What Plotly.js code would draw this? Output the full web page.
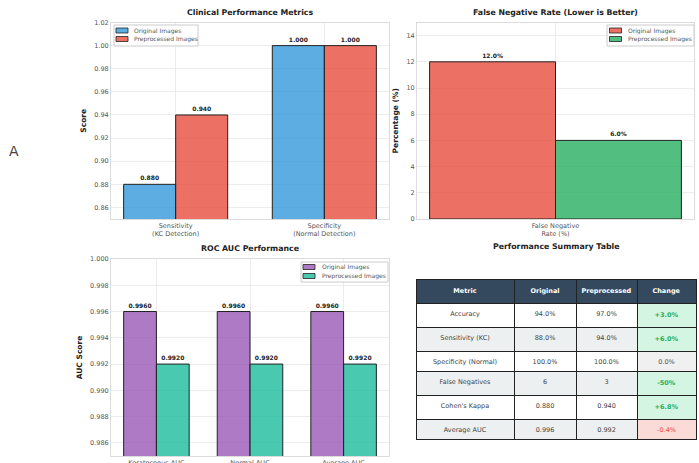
<!DOCTYPE html>
<html><head><meta charset="utf-8">
<script src="https://cdn.plot.ly/plotly-3.0.1.min.js"></script>
<style>body{margin:0;padding:0;background:#fff}#chart{width:699px;height:463px}</style>
</head><body><div id="chart"></div>
<script>
// ---- data ----
const seriesNames = ['Original Images', 'Preprocessed Images'];

const clinicalCats = ['Sensitivity<br>(KC Detection)', 'Specificity<br>(Normal Detection)'];
const clinicalOriginal = [0.880, 1.000];
const clinicalPreprocessed = [0.940, 1.000];

const fnrCats = ['False Negative<br>Rate (%)'];
const fnrOriginal = [12.0];
const fnrPreprocessed = [6.0];

const aucCats = ['Keratoconus AUC', 'Normal AUC', 'Average AUC'];
const aucOriginal = [0.996, 0.996, 0.996];
const aucPreprocessed = [0.992, 0.992, 0.992];

const tableHeader = ['Metric', 'Original', 'Preprocessed', 'Change'];
const tableMetric = ['Accuracy', 'Sensitivity (KC)', 'Specificity (Normal)', 'False Negatives', "Cohen's Kappa", 'Average AUC'];
const tableOriginal = ['94.0%', '88.0%', '100.0%', '6', '0.880', '0.996'];
const tablePreprocessed = ['97.0%', '94.0%', '100.0%', '3', '0.940', '0.992'];
const tableChange = ['+3.0%', '+6.0%', '0.0%', '-50%', '+6.8%', '-0.4%'];
const changeKind = ['good', 'good', 'neutral', 'good', 'good', 'bad'];

// ---- styles ----
const W = 699, H = 463;
const FONT = 'DejaVu Sans, Arial, sans-serif';
const blue = 'rgba(52,152,219,0.8)', red = 'rgba(231,76,60,0.8)', green = 'rgba(39,174,96,0.8)',
      purple = 'rgba(155,89,182,0.8)', teal = 'rgba(26,188,156,0.8)';
const edge = {color: '#222', width: 1};
const labelFont = {family: FONT, size: 6, color: '#222'};

function bar(x, y, name, color, xa, ya, tmpl) {
  return {type: 'bar', x: x, y: y, name: name, xaxis: xa, yaxis: ya,
    marker: {color: color, line: edge}, texttemplate: tmpl, textposition: 'outside',
    textfont: labelFont, constraintext: 'none', cliponaxis: false, showlegend: false};
}

const data = [
  bar(clinicalCats, clinicalOriginal, seriesNames[0], blue, 'x', 'y', '<b>%{y:.3f}</b>'),
  bar(clinicalCats, clinicalPreprocessed, seriesNames[1], red, 'x', 'y', '<b>%{y:.3f}</b>'),
  bar(fnrCats, fnrOriginal, seriesNames[0], red, 'x2', 'y2', '<b>%{y:.1f}%</b>'),
  bar(fnrCats, fnrPreprocessed, seriesNames[1], green, 'x2', 'y2', '<b>%{y:.1f}%</b>'),
  bar(aucCats, aucOriginal, seriesNames[0], purple, 'x3', 'y3', '<b>%{y:.4f}</b>'),
  bar(aucCats, aucPreprocessed, seriesNames[1], teal, 'x3', 'y3', '<b>%{y:.4f}</b>'),
];

const rowFill = tableMetric.map((_, i) => i % 2 === 0 ? '#ffffff' : '#ecf0f1');
const changeFill = changeKind.map(k => k === 'good' ? '#d5f5e3' : (k === 'bad' ? '#fadbd8' : '#f0f0f0'));
const changeColor = changeKind.map(k => k === 'good' ? '#27ae60' : (k === 'bad' ? '#e74c3c' : '#555555'));
const changeText = tableChange.map((t, i) => changeKind[i] === 'good' ? '<b>' + t + '</b>' : t);
const grayCol = tableMetric.map(() => '#444444');

data.push({
  type: 'table',
  domain: {x: [416/W, 696/W], y: [0.0, 1 - 279/H]},
  columnwidth: [98, 62, 61, 59],
  header: {values: tableHeader.map(h => '<b>' + h + '</b>'), fill: {color: '#34495e'},
    font: {family: FONT, size: 6.5, color: '#ffffff'}, align: 'center', height: 20,
    line: {color: '#222', width: 1}},
  cells: {values: [tableMetric, tableOriginal, tablePreprocessed, changeText],
    fill: {color: [rowFill, rowFill, rowFill, changeFill]},
    font: {family: FONT, size: 6.5, color: [grayCol, grayCol, grayCol, changeColor]},
    align: 'center', height: 20, line: {color: '#222', width: 1}}
});

function yax(domain, range, dtick, fmt, title) {
  return {domain: domain, range: range, dtick: dtick, tickformat: fmt, showgrid: true, gridcolor: '#ececec',
    showline: true, mirror: true, linecolor: '#dcdcdc', linewidth: 1, zeroline: false, ticks: '',
    tickfont: {family: FONT, size: 6.5, color: '#555'}, automargin: false,
    title: {text: title, font: {family: FONT, size: 7.5, color: '#222', weight: 'bold'}, standoff: 6}};
}
function xax(domain, range, anchor) {
  return {domain: domain, range: range, anchor: anchor, type: 'category', showgrid: true, gridcolor: '#ececec',
    showline: true, mirror: true, linecolor: '#dcdcdc', linewidth: 1, zeroline: false, ticks: '',
    tickfont: {family: FONT, size: 6.5, color: '#555'}, automargin: false, tickangle: 0};
}

// custom compact legends (pixel placement in paper coords)
const shapes = [], annotations = [];
function legendBox(x0, x1, y0, y1, colors, swX, txtX, rowY) {
  shapes.push({type: 'rect', xref: 'paper', yref: 'paper', x0: x0/W, x1: x1/W, y0: 1 - y1/H, y1: 1 - y0/H,
    fillcolor: 'rgba(255,255,255,0.9)', line: {color: '#cccccc', width: 1}});
  colors.forEach((c, i) => {
    shapes.push({type: 'rect', xref: 'paper', yref: 'paper', x0: swX/W, x1: (swX + 12)/W,
      y0: 1 - (rowY[i] + 2.5)/H, y1: 1 - (rowY[i] - 2.5)/H, fillcolor: c, line: {color: '#222', width: 0.8}});
    annotations.push({text: seriesNames[i], xref: 'paper', yref: 'paper', x: txtX/W, y: 1 - rowY[i]/H,
      xanchor: 'left', yanchor: 'middle', showarrow: false, font: {family: FONT, size: 6, color: '#555'}});
  });
}
legendBox(114, 198, 25, 46, [blue, red], 116, 132, [30.5, 39]);
legendBox(607, 694, 25, 46, [red, green], 609.5, 625.5, [30.5, 39]);
legendBox(301, 388, 262, 282, [purple, teal], 303, 319.5, [267, 276]);

const titleFont = {family: FONT, size: 7.8, color: '#222'};
function title(text, x, y) {
  annotations.push({text: '<b>' + text + '</b>', x: x/W, y: 1 - y/H, xref: 'paper', yref: 'paper',
    xanchor: 'center', yanchor: 'middle', showarrow: false, font: titleFont});
}
title('Clinical Performance Metrics', 250, 12);
title('False Negative Rate (Lower is Better)', 555, 12);
title('ROC AUC Performance', 250, 249);
title('Performance Summary Table', 556, 246);
annotations.push({text: 'A', x: 14/W, y: 1 - 151/H, xref: 'paper', yref: 'paper', xanchor: 'center', yanchor: 'middle',
  showarrow: false, font: {family: FONT, size: 14, color: '#444'}});

const layout = {
  width: W, height: H, margin: {l: 0, r: 0, t: 0, b: 0},
  paper_bgcolor: '#ffffff', plot_bgcolor: '#ffffff',
  barmode: 'group', bargap: 0.3, bargroupgap: 0, showlegend: false,
  font: {family: FONT},
  xaxis: xax([111/W, 389/W], [-0.435, 1.435], 'y'),
  yaxis: yax([1 - 219/H, 1 - 22.5/H], [0.85, 1.02], 0.02, '.2f', 'Score'),
  xaxis2: xax([417/W, 694/W], [-0.385, 0.385], 'y2'),
  yaxis2: Object.assign(yax([1 - 219/H, 1 - 22.5/H], [0, 15], 2, 'd', 'Percentage (%)'), {anchor: 'x2'}),
  xaxis3: xax([111/W, 389/W], [-0.485, 2.485], 'y3'),
  yaxis3: Object.assign(yax([1 - 456/H, 1 - 259/H], [0.985, 1.0], 0.002, '.3f', 'AUC Score'), {anchor: 'x3'}),
  shapes: shapes,
  annotations: annotations
};

Plotly.newPlot('chart', data, layout, {displayModeBar: false, staticPlot: true});
</script></body></html>
